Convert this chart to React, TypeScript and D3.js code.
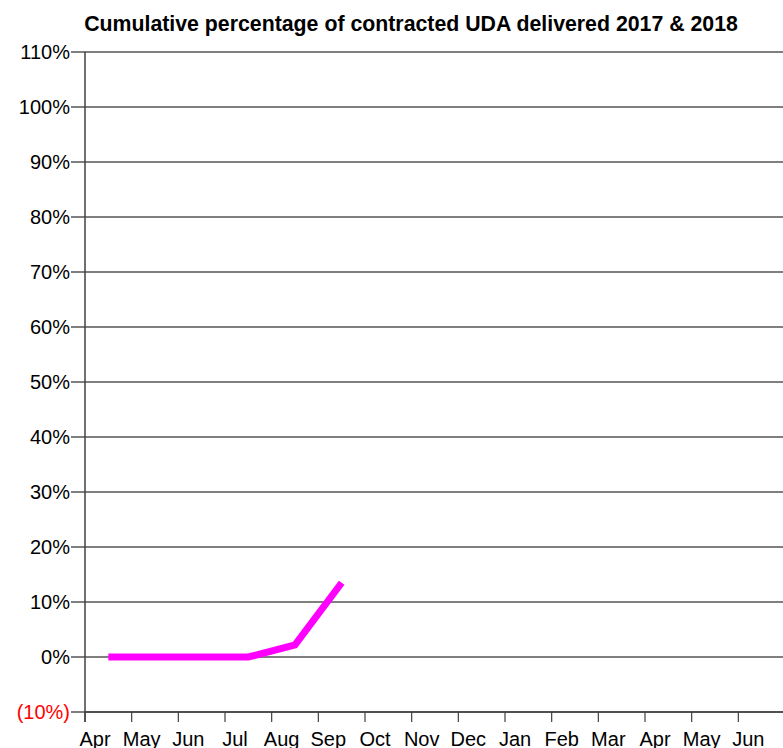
import React from "react";
import * as d3 from "d3";

const months = ["Apr", "May", "Jun", "Jul", "Aug", "Sep", "Oct", "Nov", "Dec", "Jan", "Feb", "Mar", "Apr2", "May2", "Jun2"];
const monthLabels = ["Apr", "May", "Jun", "Jul", "Aug", "Sep", "Oct", "Nov", "Dec", "Jan", "Feb", "Mar", "Apr", "May", "Jun"];
const deliveredPct = [0, 0, 0, 0, 2.2, 13.5];
const yTicks = [-10, 0, 10, 20, 30, 40, 50, 60, 70, 80, 90, 100, 110];
const title = "Cumulative percentage of contracted UDA delivered 2017 & 2018";

export default function App() {
  const W = 783, H = 748;
  const left = 85, right = 785, top = 52, bottom = 712;
  const x = d3.scaleBand<string>().domain(months).range([left, right]);
  const y = d3.scaleLinear().domain([-10, 110]).range([bottom, top]);
  const line = d3
    .line<number>()
    .x((_, i) => (x(months[i]) as number) + x.bandwidth() / 2)
    .y((d) => y(d));
  const fmt = (v: number) => (v < 0 ? `(${Math.abs(v)}%)` : `${v}%`);
  return (
    <svg width={W} height={H} style={{ position: "absolute", left: 0, top: 0, fontFamily: "Arial, 'Liberation Sans', sans-serif" }}>
      <rect width={W} height={H} fill="#fff" />
      <text x={411} y={31} textAnchor="middle" fontSize={21.3} fontWeight="bold" fill="#000">{title}</text>
      {yTicks.map((t) => (
        <g key={t}>
          <line x1={71} x2={right} y1={y(t)} y2={y(t)} stroke="#000" strokeWidth={1.2} />
          <text x={70} y={y(t) + 7} textAnchor="end" fontSize={20} fill={t < 0 ? "#ff0000" : "#000"}>{fmt(t)}</text>
        </g>
      ))}
      <line x1={left} x2={left} y1={top} y2={bottom + 10} stroke="#404040" strokeWidth={1.5} />
      <line x1={left} x2={right} y1={bottom} y2={bottom} stroke="#404040" strokeWidth={1.5} />
      {months.map((m, i) => (
        <g key={m}>
          <line x1={x(m)} x2={x(m)} y1={bottom} y2={bottom + 10} stroke="#404040" strokeWidth={1.2} />
          <text x={(x(m) as number) + 10} y={746} textAnchor="middle" fontSize={20} fill="#000">{monthLabels[i]}</text>
        </g>
      ))}
      <path d={line(deliveredPct) || ""} fill="none" stroke="#ff00ff" strokeWidth={7} strokeLinejoin="miter" />
    </svg>
  );
}
